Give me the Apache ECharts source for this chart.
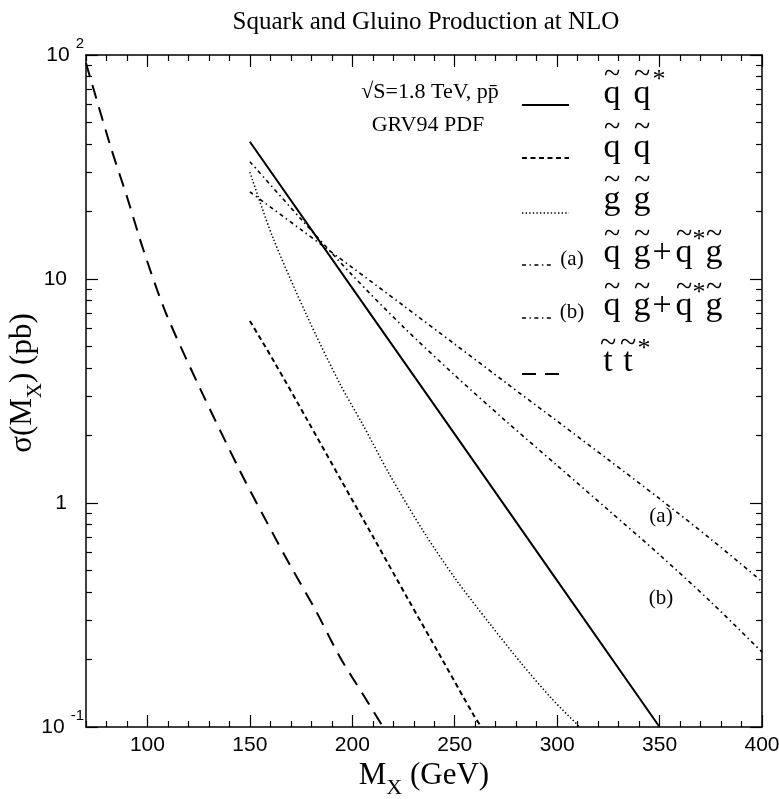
<!DOCTYPE html>
<html><head><meta charset="utf-8">
<script src="https://cdn.jsdelivr.net/npm/echarts@6/dist/echarts.min.js"></script>
<style>html,body{margin:0;padding:0;background:#fff}#c{width:779px;height:799px}</style>
</head><body><div id="c"></div>
<script>
// ---------- data ----------
const titleText = 'Squark and Gluino Production at NLO';
const xTickValues = [100, 150, 200, 250, 300, 350, 400];
const xTickLabels = ['100', '150', '200', '250', '300', '350', '400'];
const xMinorTicks = [70, 80, 90, 110, 120, 130, 140, 160, 170, 180, 190, 210, 220, 230, 240, 260, 270, 280, 290, 310, 320, 330, 340, 360, 370, 380, 390];
const yTickValues = [0.1, 1, 10, 100];
const yTickLabels = ['10^-1', '1', '10', '10^2'];
const yMinorTicks = [0.2, 0.3, 0.4, 0.5, 0.6, 0.7, 0.8, 0.9, 2, 3, 4, 5, 6, 7, 8, 9, 20, 30, 40, 50, 60, 70, 80, 90];

// squark-antisquark (solid)
const mSqSqbar = [150, 200, 250, 300, 350];
const sSqSqbar = [41, 9.1, 2.03, 0.45, 0.1];
// squark-squark (short dash)
const mSqSq = [150, 162, 178, 194, 210, 227, 243, 259, 263];
const sSqSq = [6.5, 4.25, 2.35, 1.29, 0.71, 0.375, 0.207, 0.114, 0.1];
// gluino-gluino (dotted)
const mGlGl = [150, 161, 178, 194, 205, 218, 235, 251, 267, 283, 297, 311];
const sGlGl = [30, 15.5, 6.8, 3.4, 2.25, 1.35, 0.74, 0.45, 0.29, 0.19, 0.135, 0.1];
// squark-gluino (a) and (b) (dash-dot)
const mSqGl = [150, 175, 200, 225, 250, 275, 300, 325, 350, 375, 400];
const sSqGlA = [24.5, 16.6, 11.25, 7.6, 5.12, 3.44, 2.32, 1.56, 1.045, 0.69, 0.446];
const sSqGlB = [33.4, 18.5, 10.4, 6.1, 3.72, 2.32, 1.47, 0.93, 0.587, 0.362, 0.216];
// stop-antistop (long dash)
const mStSt = [70, 82, 90, 98, 109, 126, 145, 158, 170, 182, 194, 206, 215];
const sStSt = [92, 39, 23.3, 13.5, 7.05, 3.2, 1.40, 0.83, 0.52, 0.333, 0.205, 0.136, 0.1];

// ---------- helpers ----------
const SERIF = '"Liberation Serif", "Times New Roman", serif';
const SANS = '"Liberation Sans", Arial, sans-serif';
const zip = (xs, ys) => xs.map((x, i) => [x, ys[i]]);

const DASH = {
  solid: 'solid',
  short: [5, 3.5],
  dot: [1.4, 2.2],
  dashdot: [4, 3.5, 1.4, 3.5],
  long: [14, 9]
};

function lineSeries(name, xs, ys, dash, width, smooth) {
  return {
    name, type: 'line', data: zip(xs, ys), xAxisIndex: 0, yAxisIndex: 0,
    showSymbol: false, symbol: 'none', smooth: smooth, silent: true,
    lineStyle: { color: '#000', width: width, type: dash, cap: 'butt' },
    clip: true
  };
}

const yLabelMap = {};
yTickValues.forEach((v, i) => { yLabelMap[String(v)] = yTickLabels[i]; });
function yFormatter(v) {
  const key = String(+(+v).toPrecision(6));
  const lab = yLabelMap[key];
  if (lab === undefined) return '';
  if (lab.indexOf('^') >= 0) {
    const [b, e] = lab.split('^');
    return '{b|' + b + '}{sup|' + e + '}';
  }
  return '{p|' + lab + '}';
}

const axisCommon = {
  axisLine: { show: false },
  splitLine: { show: false }
};

const X_MIN = 70, X_MAX = 400, Y_MIN = 0.1, Y_MAX = 100;

function xAx(pos, ticks, len, labels, line) {
  return Object.assign({}, axisCommon, {
    type: 'value', min: X_MIN, max: X_MAX, position: pos, gridIndex: 0,
    axisLine: { show: line, onZero: false, lineStyle: { color: '#000', width: 1.5 } },
    axisTick: { show: true, inside: true, length: len, customValues: ticks, lineStyle: { color: '#000', width: 1.2 } },
    axisLabel: labels ? { show: true, customValues: xTickValues, formatter: v => xTickLabels[xTickValues.indexOf(v)], color: '#000', fontSize: 21, fontFamily: SANS, margin: 8 } : { show: false }
  });
}
function yAx(pos, ticks, len, labels, line) {
  return Object.assign({}, axisCommon, {
    type: 'log', logBase: 10, min: Y_MIN, max: Y_MAX, position: pos, gridIndex: 0,
    axisLine: { show: line, onZero: false, lineStyle: { color: '#000', width: 1.5 } },
    axisTick: { show: true, inside: true, length: len, customValues: ticks, lineStyle: { color: '#000', width: 1.2 } },
    axisLabel: labels ? {
      show: true, customValues: yTickValues, formatter: yFormatter, margin: 2, color: '#000',
      rich: {
        p: { fontSize: 21, fontFamily: SANS, color: '#000', padding: [0, 17, 0, 0] },
        b: { fontSize: 21, fontFamily: SANS, color: '#000', lineHeight: 21, verticalAlign: 'bottom' },
        sup: { fontSize: 15, fontFamily: SANS, color: '#000', lineHeight: 15, padding: [0, 0, 14, 6], verticalAlign: 'bottom' }
      }
    } : { show: false }
  });
}

const xAxes = [
  xAx('bottom', xTickValues, 12, true, true),
  xAx('bottom', xMinorTicks, 6, false, false),
  xAx('top', xTickValues, 12, false, true),
  xAx('top', xMinorTicks, 6, false, false)
];
xAxes[0].name = '{m|M}{sub|X}{m| (GeV)}';
xAxes[0].nameLocation = 'middle';
xAxes[0].nameGap = 41;
xAxes[0].nameMoveOverlap = false;
xAxes[0].nameTextStyle = {
  rich: {
    m: { fontSize: 31, fontFamily: SERIF, color: '#000', lineHeight: 31, padding: [0, 0, 8, 0], verticalAlign: 'bottom' },
    sub: { fontSize: 22, fontFamily: SERIF, color: '#000', lineHeight: 22, verticalAlign: 'bottom' }
  }
};

const yAxes = [
  yAx('left', yTickValues, 12, true, true),
  yAx('left', yMinorTicks, 6, false, false),
  yAx('right', yTickValues, 12, false, true),
  yAx('right', yMinorTicks, 6, false, false)
];
yAxes[0].name = '{m|σ(M}{sub|X}{m|) (pb)}';
yAxes[0].nameLocation = 'middle';
yAxes[0].nameRotate = 90;
yAxes[0].nameGap = 40;
yAxes[0].nameMoveOverlap = false;
yAxes[0].nameTextStyle = {
  padding: [0, 0, 0, 16],
  rich: {
    m: { fontSize: 31, fontFamily: SERIF, color: '#000', lineHeight: 31, padding: [0, 0, 8, 0], verticalAlign: 'bottom' },
    sub: { fontSize: 21, fontFamily: SERIF, color: '#000', lineHeight: 21, verticalAlign: 'bottom' }
  }
};

// ---------- legend (graphic) ----------
const G = [];
function txt(t, x, y, size, align) {
  G.push({ type: 'text', silent: true, style: { text: t, x: x, y: y, fill: '#000', font: size + 'px ' + SERIF, textAlign: align || 'center', textVerticalAlign: 'middle' } });
}
function seg(x1, x2, y, dash, w) {
  G.push({ type: 'line', silent: true, shape: { x1: x1, y1: y, x2: x2, y2: y }, style: { stroke: '#000', lineWidth: w, lineDash: dash === 'solid' ? null : dash } });
}
const LS = 34, TS = 30;
// info text
txt('\u221AS=1.8 TeV, p\u0070\u0304', 430, 92, 22);
txt('GRV94 PDF', 428, 125, 22);
// entry 1: q q*
seg(522, 569, 105, 'solid', 2);
txt('q', 612, 94, LS); txt('q', 642, 94, LS);
txt('~', 612, 75, TS); txt('~', 642, 75, TS); txt('*', 659, 80, 26);
// entry 2: q q
seg(522, 569, 158, DASH.short, 2);
txt('q', 612, 148, LS); txt('q', 642, 148, LS);
txt('~', 612, 128, TS); txt('~', 642, 128, TS);
// entry 3: g g
seg(522, 569, 213, DASH.dot, 1.5);
txt('g', 612, 200, LS); txt('g', 642, 200, LS);
txt('~', 612, 181, TS); txt('~', 642, 181, TS);
// entry 4: (a) q g + q* g
seg(522, 551, 265, DASH.dashdot, 1.6);
txt('(a)', 572, 259, 21);
txt('q', 612, 253, LS); txt('g', 642, 253, LS); txt('+', 662, 253, LS); txt('q', 684, 253, LS); txt('g', 714, 253, LS);
txt('~', 612, 235, TS); txt('~', 642, 235, TS); txt('~', 684, 235, TS); txt('~', 714, 235, TS); txt('*', 699, 240, 26);
// entry 5: (b)
seg(522, 551, 318, DASH.dashdot, 1.6);
txt('(b)', 572, 312, 21);
txt('q', 612, 306, LS); txt('g', 642, 306, LS); txt('+', 662, 306, LS); txt('q', 684, 306, LS); txt('g', 714, 306, LS);
txt('~', 612, 288, TS); txt('~', 642, 288, TS); txt('~', 684, 288, TS); txt('~', 714, 288, TS); txt('*', 699, 293, 26);
// entry 6: t t*
seg(522, 562, 374, DASH.long, 2);
txt('t', 608, 362, LS); txt('t', 628, 362, LS);
txt('~', 608, 344, TS); txt('~', 628, 344, TS); txt('*', 644, 349, 26);
// curve annotations
txt('(a)', 661, 516, 21);
txt('(b)', 661, 598, 21);

const option = {
  animation: false,
  backgroundColor: '#fff',
  title: { text: titleText, left: 421, top: 5, textAlign: 'center', textStyle: { fontFamily: SERIF, fontWeight: 'normal', fontSize: 25, color: '#000' } },
  grid: { left: 86, top: 55, width: 676, height: 672, containLabel: false, outerBoundsMode: 'none' },
  xAxis: xAxes,
  yAxis: yAxes,
  series: [
    lineSeries('sqsqbar', mSqSqbar, sSqSqbar, DASH.solid, 2, false),
    lineSeries('sqsq', mSqSq, sSqSq, DASH.short, 2, 0.3),
    lineSeries('glgl', mGlGl, sGlGl, DASH.dot, 1.5, 0.3),
    lineSeries('sqglA', mSqGl, sSqGlA, DASH.dashdot, 1.6, 0.3),
    lineSeries('sqglB', mSqGl, sSqGlB, DASH.dashdot, 1.6, 0.3),
    lineSeries('stst', mStSt, sStSt, DASH.long, 2, 0.3)
  ],
  graphic: G
};
const chart = echarts.init(document.getElementById('c'), null, { renderer: 'canvas' });
chart.setOption(option);
</script>
</body></html>
